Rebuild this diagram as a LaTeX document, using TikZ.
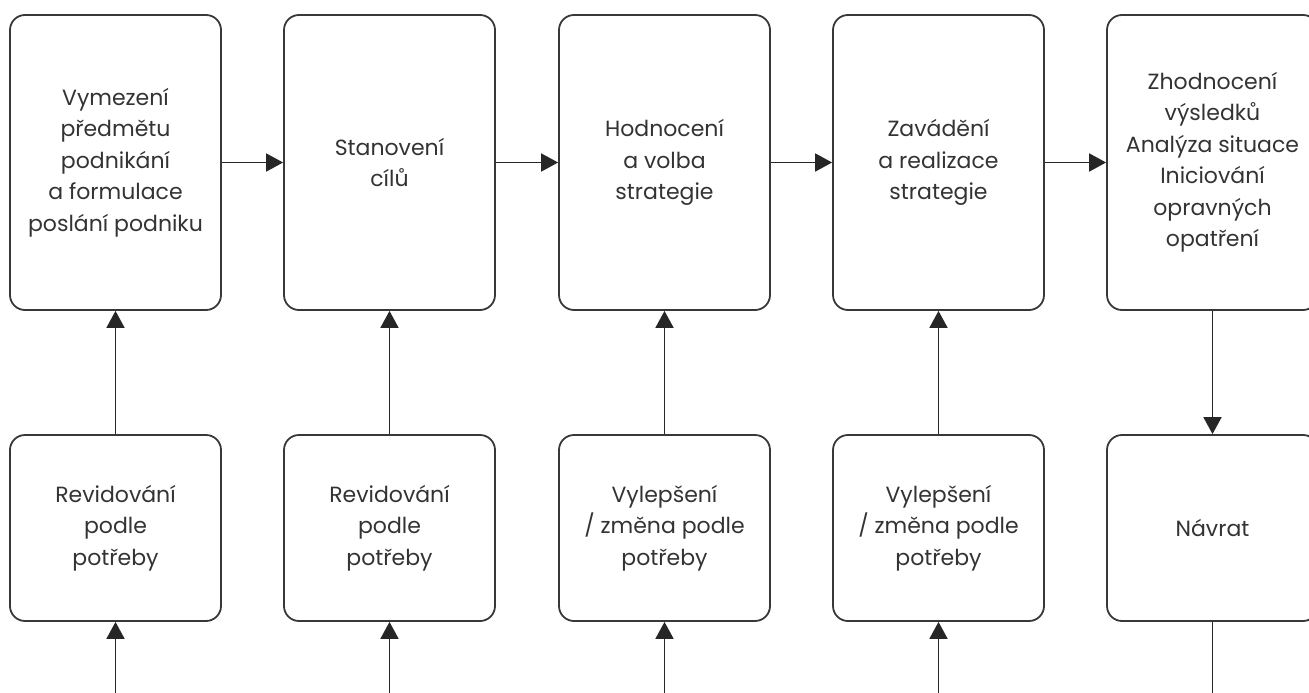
\documentclass[tikz,border=0pt]{standalone}
\usepackage{fontspec}
\setmainfont{Poppins}
\usetikzlibrary{arrows.meta}
\begin{document}
\begin{tikzpicture}[x=1pt,y=-1pt,
 box/.style={draw=black!78,line width=1.8pt,rounded corners=15pt,inner sep=0pt,text=black!80,align=center,font=\fontsize{22}{31.5}\selectfont},
 topbox/.style={box,minimum width=211pt,minimum height=295pt},
 botbox/.style={box,minimum width=211pt,minimum height=186pt},
 arr/.style={line width=1.8pt,draw=black!85,-{Triangle[length=17pt,width=18pt]}},
 ln/.style={line width=1.8pt,draw=black!85}]
\useasboundingbox (0,0) rectangle (1309,693);
\node[topbox] (t1) at (115.5,162.5) {Vymezení\\předmětu\\podnikání\\a formulace\\poslání podniku};
\node[topbox] (t2) at (389.5,162.5) {Stanovení\\cílů};
\node[topbox] (t3) at (664.5,162.5) {Hodnocení\\a volba\\strategie};
\node[topbox] (t4) at (938.5,162.5) {Zavádění\\a realizace\\strategie};
\node[topbox] (t5) at (1212.5,162.5) {Zhodnocení\\výsledků\\Analýza situace\\Iniciování\\opravných\\opatření};
\node[botbox] (b1) at (115.5,528) {Revidování\\podle\\potřeby};
\node[botbox] (b2) at (389.5,528) {Revidování\\podle\\potřeby};
\node[botbox] (b3) at (664.5,528) {Vylepšení\\/ změna podle\\potřeby};
\node[botbox] (b4) at (938.5,528) {Vylepšení\\/ změna podle\\potřeby};
\node[botbox] (b5) at (1212.5,528) {Návrat};
\coordinate (e1) at (115.5,700);
\coordinate (e2) at (389.5,700);
\coordinate (e3) at (664.5,700);
\coordinate (e4) at (938.5,700);
\coordinate (e5) at (1212.5,700);
\draw[arr] (t1) -- (t2);
\draw[arr] (t2) -- (t3);
\draw[arr] (t3) -- (t4);
\draw[arr] (t4) -- (t5);
\draw[arr] (b1) -- (t1);
\draw[arr] (b2) -- (t2);
\draw[arr] (b3) -- (t3);
\draw[arr] (b4) -- (t4);
\draw[arr] (t5) -- (b5);
\draw[arr] (e1) -- (b1);
\draw[arr] (e2) -- (b2);
\draw[arr] (e3) -- (b3);
\draw[arr] (e4) -- (b4);
\draw[ln] (b5) -- (e5);
\end{tikzpicture}
\end{document}
